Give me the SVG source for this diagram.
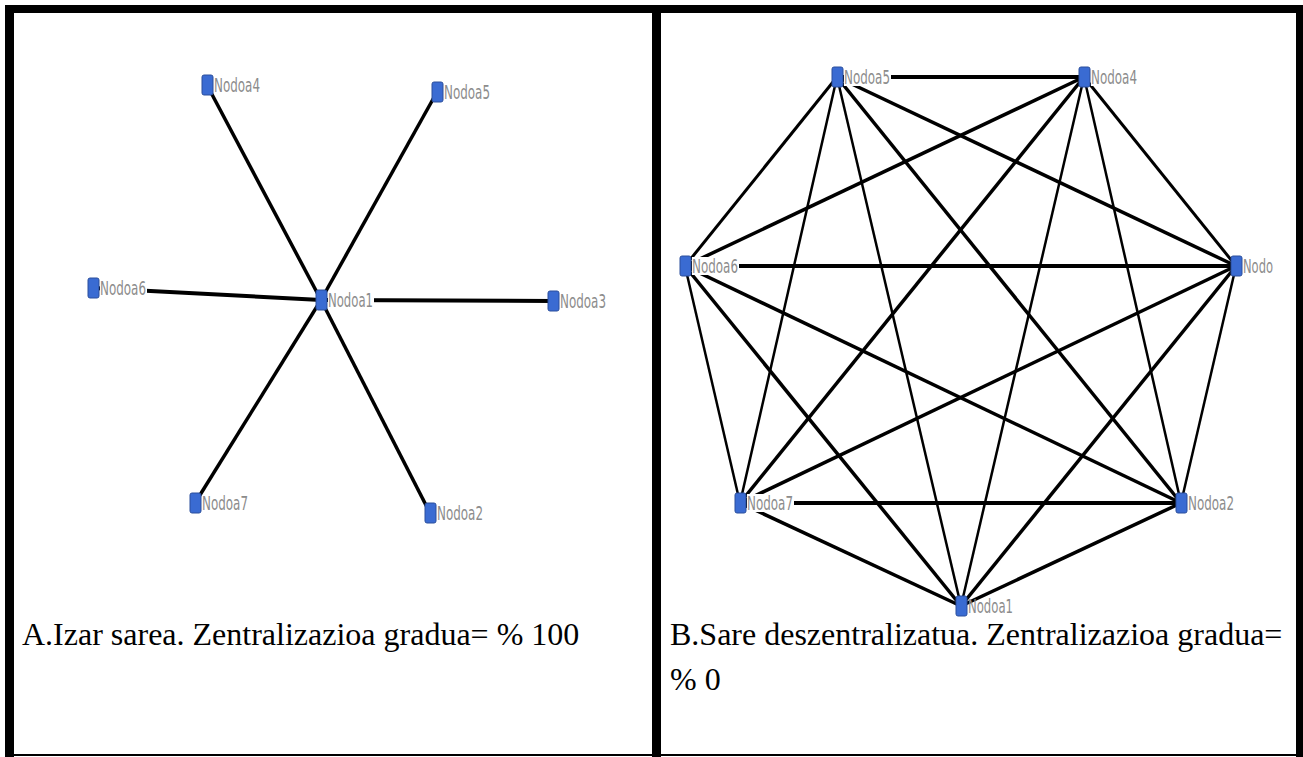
<svg xmlns="http://www.w3.org/2000/svg" width="1303" height="757" viewBox="0 0 1303 757">
<style>
.bd{fill:#000}
.e{stroke:#000;stroke-linecap:butt;fill:none}
.nd{fill:#3a6bd2;stroke:#2b4f9c;stroke-width:1}
.bg{fill:#fff}
.lb{font-family:"DejaVu Sans",sans-serif;font-size:19px;fill:#8c8c8c}
.cap{font-family:"Liberation Serif","Times New Roman",serif;font-size:32px;fill:#000}
</style>
<rect width="1303" height="757" fill="#fff"/>
<g id="frame">
<rect class="bd" x="5" y="5" width="1298" height="8"/>
<rect class="bd" x="5" y="5" width="9" height="752"/>
<rect class="bd" x="652" y="5" width="9" height="752"/>
<rect class="bd" x="1296" y="5" width="7" height="752"/>
<rect class="bd" x="5" y="754" width="1298" height="2"/>
</g>
<g id="connectors-a">
<line class="e" stroke-width="3.5" x1="321" y1="300" x2="207" y2="85"/>
<line class="e" stroke-width="3.5" x1="321" y1="300" x2="437" y2="92"/>
<line class="e" stroke-width="4" x1="321" y1="300" x2="93" y2="288"/>
<line class="e" stroke-width="4" x1="321" y1="300" x2="553" y2="301"/>
<line class="e" stroke-width="3.5" x1="321" y1="300" x2="195" y2="503"/>
<line class="e" stroke-width="3.5" x1="321" y1="300" x2="430" y2="513"/>
</g>
<g id="a-nodoa4"><rect class="nd" x="202" y="75" width="11" height="20" rx="2"/><text class="lb" x="214" y="92" textLength="46" lengthAdjust="spacingAndGlyphs">Nodoa4</text></g>
<g id="a-nodoa5"><rect class="nd" x="432" y="82" width="11" height="20" rx="2"/><text class="lb" x="444" y="99" textLength="46" lengthAdjust="spacingAndGlyphs">Nodoa5</text></g>
<g id="a-nodoa6"><rect class="nd" x="88" y="278" width="11" height="20" rx="2"/><rect class="bg" x="100" y="279" width="47" height="18"/><text class="lb" x="100" y="295" textLength="46" lengthAdjust="spacingAndGlyphs">Nodoa6</text></g>
<g id="a-nodoa1"><rect class="nd" x="316" y="290" width="11" height="20" rx="2"/><rect class="bg" x="328" y="291" width="46" height="18"/><text class="lb" x="328" y="307" textLength="45" lengthAdjust="spacingAndGlyphs">Nodoa1</text></g>
<g id="a-nodoa3"><rect class="nd" x="548" y="291" width="11" height="20" rx="2"/><text class="lb" x="560" y="308" textLength="46" lengthAdjust="spacingAndGlyphs">Nodoa3</text></g>
<g id="a-nodoa7"><rect class="nd" x="190" y="493" width="11" height="20" rx="2"/><text class="lb" x="202" y="510" textLength="46" lengthAdjust="spacingAndGlyphs">Nodoa7</text></g>
<g id="a-nodoa2"><rect class="nd" x="425" y="503" width="11" height="20" rx="2"/><text class="lb" x="437" y="520" textLength="46" lengthAdjust="spacingAndGlyphs">Nodoa2</text></g>
<g id="connectors-b">
<line class="e" stroke-width="4" x1="837" y1="77" x2="1084" y2="77"/>
<line class="e" stroke-width="3.5" x1="837" y1="77" x2="1236" y2="266"/>
<line class="e" stroke-width="3" x1="837" y1="77" x2="685" y2="266"/>
<line class="e" stroke-width="2.5" x1="837" y1="77" x2="740" y2="503"/>
<line class="e" stroke-width="3.5" x1="837" y1="77" x2="1181" y2="503"/>
<line class="e" stroke-width="2.5" x1="837" y1="77" x2="961" y2="606"/>
<line class="e" stroke-width="3" x1="1084" y1="77" x2="1236" y2="266"/>
<line class="e" stroke-width="3.5" x1="1084" y1="77" x2="685" y2="266"/>
<line class="e" stroke-width="3.5" x1="1084" y1="77" x2="740" y2="503"/>
<line class="e" stroke-width="2.5" x1="1084" y1="77" x2="1181" y2="503"/>
<line class="e" stroke-width="2.5" x1="1084" y1="77" x2="961" y2="606"/>
<line class="e" stroke-width="4" x1="1236" y1="266" x2="685" y2="266"/>
<line class="e" stroke-width="3.5" x1="1236" y1="266" x2="740" y2="503"/>
<line class="e" stroke-width="2.5" x1="1236" y1="266" x2="1181" y2="503"/>
<line class="e" stroke-width="3.5" x1="1236" y1="266" x2="961" y2="606"/>
<line class="e" stroke-width="2.5" x1="685" y1="266" x2="740" y2="503"/>
<line class="e" stroke-width="3.5" x1="685" y1="266" x2="1181" y2="503"/>
<line class="e" stroke-width="3.5" x1="685" y1="266" x2="961" y2="606"/>
<line class="e" stroke-width="4" x1="740" y1="503" x2="1181" y2="503"/>
<line class="e" stroke-width="3.5" x1="740" y1="503" x2="961" y2="606"/>
<line class="e" stroke-width="3.5" x1="1181" y1="503" x2="961" y2="606"/>
</g>
<g id="b-nodoa5"><rect class="nd" x="832" y="67" width="11" height="20" rx="2"/><rect class="bg" x="844" y="68" width="47" height="18"/><text class="lb" x="844" y="84" textLength="46" lengthAdjust="spacingAndGlyphs">Nodoa5</text></g>
<g id="b-nodoa4"><rect class="nd" x="1079" y="67" width="11" height="20" rx="2"/><rect class="bg" x="1091" y="68" width="47" height="18"/><text class="lb" x="1091" y="84" textLength="46" lengthAdjust="spacingAndGlyphs">Nodoa4</text></g>
<g id="b-nodo"><rect class="nd" x="1231" y="256" width="11" height="20" rx="2"/><text class="lb" x="1243" y="273" textLength="30" lengthAdjust="spacingAndGlyphs">Nodo</text></g>
<g id="b-nodoa6"><rect class="nd" x="680" y="256" width="11" height="20" rx="2"/><rect class="bg" x="692" y="257" width="47" height="18"/><text class="lb" x="692" y="273" textLength="46" lengthAdjust="spacingAndGlyphs">Nodoa6</text></g>
<g id="b-nodoa7"><rect class="nd" x="735" y="493" width="11" height="20" rx="2"/><rect class="bg" x="747" y="494" width="47" height="18"/><text class="lb" x="747" y="510" textLength="46" lengthAdjust="spacingAndGlyphs">Nodoa7</text></g>
<g id="b-nodoa2"><rect class="nd" x="1176" y="493" width="11" height="20" rx="2"/><text class="lb" x="1188" y="510" textLength="46" lengthAdjust="spacingAndGlyphs">Nodoa2</text></g>
<g id="b-nodoa1"><rect class="nd" x="956" y="596" width="11" height="20" rx="2"/><text class="lb" x="968" y="613" textLength="45" lengthAdjust="spacingAndGlyphs">Nodoa1</text></g>
<g id="captions">
<text class="cap" x="22" y="645">A.Izar sarea. Zentralizazioa gradua= % 100</text>
<text class="cap" x="670" y="645">B.Sare deszentralizatua. Zentralizazioa gradua=</text>
<text class="cap" x="670" y="690">% 0</text>
</g>
</svg>
